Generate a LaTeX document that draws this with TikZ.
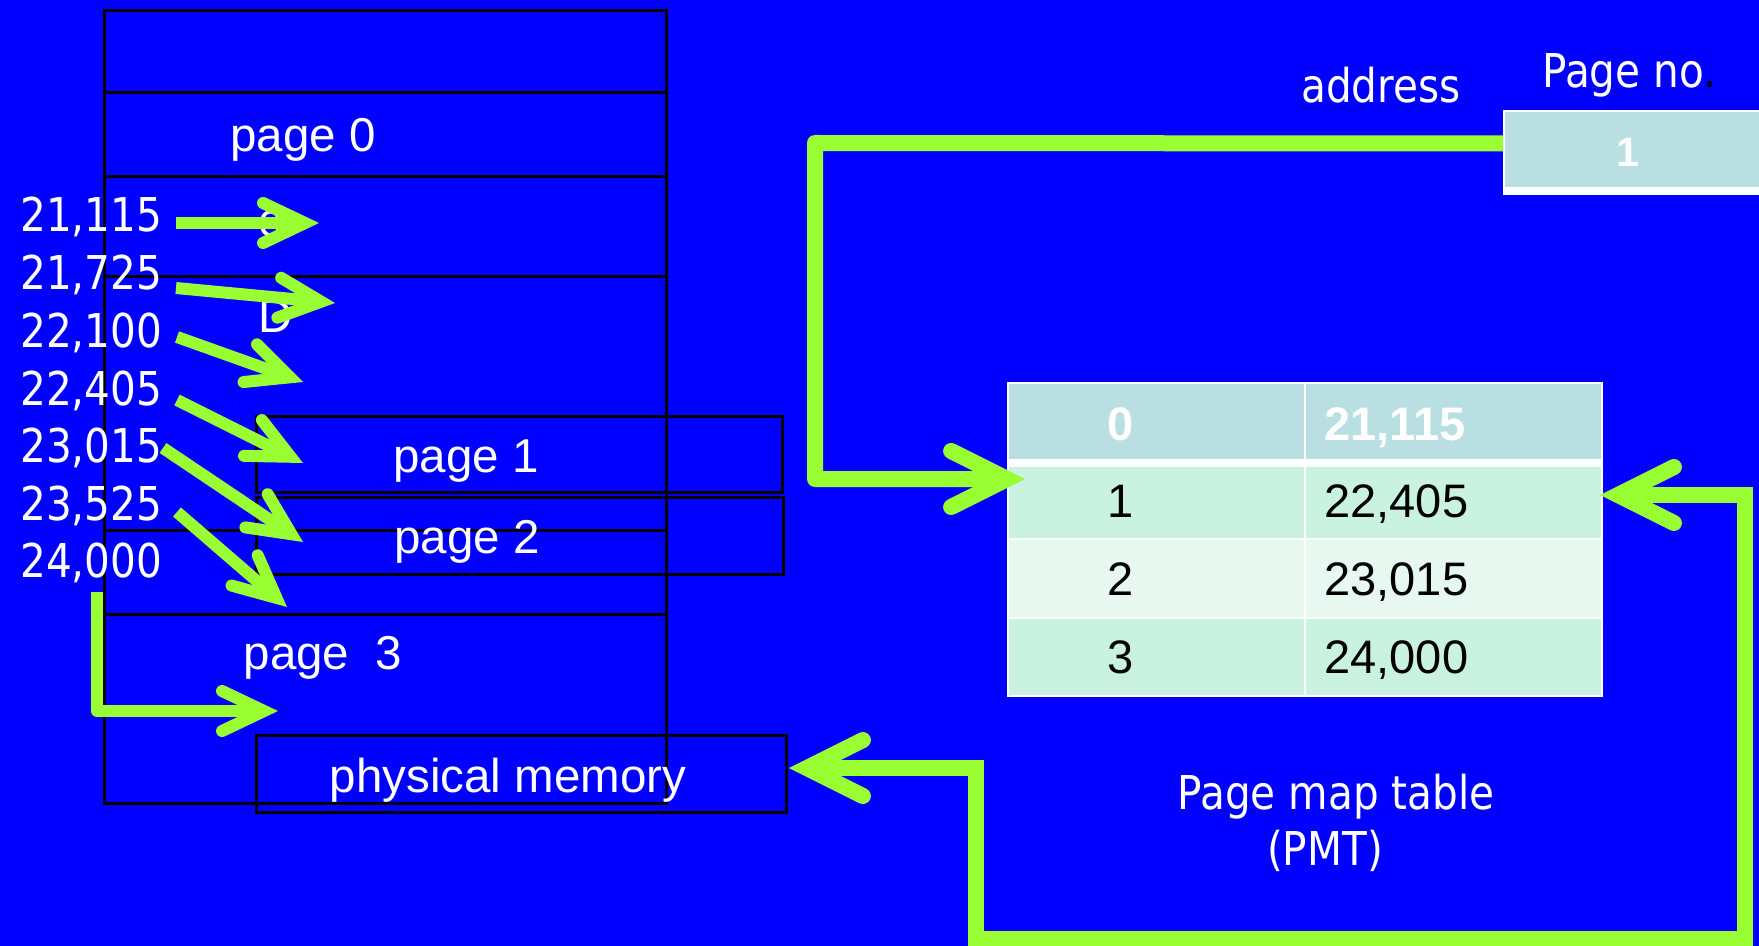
\documentclass[tikz,border=0pt]{standalone}
\usepackage{fontspec}
\setmainfont{Liberation Sans}
\newfontfamily\tah[FakeStretch=0.87]{DejaVu Sans}
\usetikzlibrary{arrows.meta}
\definecolor{bg}{RGB}{0,0,255}
\definecolor{grn}{RGB}{153,255,51}
\definecolor{hdr}{RGB}{185,223,227}
\definecolor{rowa}{RGB}{201,242,224}
\definecolor{rowb}{RGB}{230,248,239}
\tikzset{
  membox/.style={draw=black, line width=1.5pt, inner sep=0pt, anchor=north west},
  memline/.style={draw=black, line width=1.5pt},
  ptext/.style={text=white, font=\fontsize{23.75}{28}\selectfont, inner sep=0pt, anchor=base},
  ttext/.style={text=white, font=\tah\fontsize{23.3}{28}\selectfont, inner sep=0pt},
  cell/.style={draw=white, line width=1pt, inner sep=0pt, anchor=north west, minimum width=148.5pt},
  celltext/.style={text=black, font=\fontsize{23.5}{28}\selectfont, inner sep=0pt},
  bigarrow/.style={draw=grn, line width=8pt,
    -{Straight Barb[length=28pt,width=28pt,line cap=round,line join=miter]}},
  bothbig/.style={draw=grn, line width=8pt, line join=miter,
    {Straight Barb[length=28pt,width=28pt,line cap=round,line join=miter]}-{Straight Barb[length=28pt,width=28pt,line cap=round,line join=miter]}},
  smallarrow/.style={draw=grn, line width=6pt, line join=round,
    -{Straight Barb[length=21pt,width=20pt,line cap=round,line join=miter]}},
}
\begin{document}
\begin{tikzpicture}[x=0.5pt,y=-0.5pt]
\fill[bg] (0,0) rectangle (1759,946);
\useasboundingbox (0,0) rectangle (1759,946);

% physical memory column
\node[membox, minimum width=281pt, minimum height=396.5pt] (mem) at (103,9) {};
\draw[memline] (mem.west |- 0,93) -- (mem.east |- 0,93);
\draw[memline] (mem.west |- 0,177) -- (mem.east |- 0,177);
\draw[memline] (mem.west |- 0,277) -- (mem.east |- 0,277);
\draw[memline] (mem.west |- 0,530) -- (mem.east |- 0,530);
\draw[memline] (mem.west |- 0,614) -- (mem.east |- 0,614);
\node[membox, minimum width=263pt, minimum height=38pt] (p1box) at (255,415) {};
\node[membox, minimum width=263.5pt, minimum height=38.5pt] (p2box) at (255,496) {};
\node[membox, minimum width=265pt, minimum height=38.5pt] (pm) at (255,734) {};

\node[ptext] (pg0) at (303,152) {page 0};
\node[ptext, anchor=base west] (cc) at (258,237) {c};
\node[ptext, anchor=base west] (dd) at (258,333) {D};
\node[ptext] (pg1) at (466,472) {page 1};
\node[ptext] (pg2) at (467,553) {page 2};
\node[ptext] (pg3) at (323,669) {page~\ 3};
\node[ptext] (pmt) at (508,792) {physical memory};

% address labels
\node[ttext, anchor=base west] (a1) at (20,232) {21,115};
\node[ttext, anchor=base west] (a2) at (20,290) {21,725};
\node[ttext, anchor=base west] (a3) at (20,347) {22,100};
\node[ttext, anchor=base west] (a4) at (20,405) {22,405};
\node[ttext, anchor=base west] (a5) at (20,462) {23,015};
\node[ttext, anchor=base west] (a6) at (20,520) {23,525};
\node[ttext, anchor=base west] (a7) at (20,577) {24,000};

% top labels
\node[ttext, anchor=base] (addr) at (1381,103) {address};
\node[ttext, anchor=base west] (pno) at (1542,88) {Page no\textcolor{black}{.}};
\node[cell, fill=hdr, minimum width=130pt, minimum height=39.5pt] (pn) at (1503,110) {};
\draw[white, line width=4pt] (pn.south west) -- (pn.south east);
\node[text=white, font=\bfseries\fontsize{20.5}{24}\selectfont, inner sep=0pt, anchor=base] (pnv) at (1628,167) {1};

% page map table
\node[cell, fill=hdr, minimum height=39.5pt] (h1) at (1007,382) {};
\node[cell, fill=hdr, minimum height=39.5pt] (h2) at (1304,382) {};
\node[cell, fill=rowa, minimum height=38.5pt] (r11) at (1007,461) {};
\node[cell, fill=rowa, minimum height=38.5pt] (r12) at (1304,461) {};
\node[cell, fill=rowb, minimum height=39.5pt] (r21) at (1007,538) {};
\node[cell, fill=rowb, minimum height=39.5pt] (r22) at (1304,538) {};
\node[cell, fill=rowa, minimum height=39pt] (r31) at (1007,617) {};
\node[cell, fill=rowa, minimum height=39pt] (r32) at (1304,617) {};
\draw[white, line width=4pt] (h1.south west) -- (h2.south east);

\node[celltext, text=white, font=\bfseries\fontsize{23.5}{28}\selectfont, anchor=base] (t0a) at (1121,440) {0};
\node[celltext, text=white, font=\bfseries\fontsize{23.5}{28}\selectfont, anchor=base west] (t0b) at (1324,440) {21,115};
\node[celltext, anchor=base] (t1a) at (1121,517) {1};
\node[celltext, anchor=base west] (t1b) at (1324,517) {22,405};
\node[celltext, anchor=base] (t2a) at (1121,595) {2};
\node[celltext, anchor=base west] (t2b) at (1324,595) {23,015};
\node[celltext, anchor=base] (t3a) at (1121,673) {3};
\node[celltext, anchor=base west] (t3b) at (1324,673) {24,000};

\node[ttext, anchor=base] (pmtl1) at (1336,809) {Page map table};
\node[ttext, anchor=base] (pmtl2) at (1325,865) {(PMT)};

% small arrows into memory
\coordinate (s1) at (176,223); \coordinate (e1) at (319,223);
\coordinate (s2) at (176,288); \coordinate (e2) at (335,303);
\coordinate (s3) at (177,337); \coordinate (e3) at (303,382);
\coordinate (s4) at (177,400); \coordinate (e4) at (303,463);
\coordinate (s5) at (163,448); \coordinate (e5) at (303,542);
\coordinate (s6) at (177,512); \coordinate (e6) at (287,607);
\draw[smallarrow] (s1) -- (e1);
\draw[smallarrow] (s2) -- (e2);
\draw[smallarrow] (s3) -- (e3);
\draw[smallarrow] (s4) -- (e4);
\draw[smallarrow] (s5) -- (e5);
\draw[smallarrow] (s6) -- (e6);
\coordinate (s7) at (97,592); \coordinate (e7) at (278,711);
\draw[smallarrow] (s7) |- (e7);

% page number to table
\coordinate (k1) at (815,143);
\coordinate (k2) at (815,479);
\coordinate (e8) at (1025,479);
\draw[bigarrow, line join=round] ([yshift=3.5pt]pn.west) -- (k1) -- (k2) -- (e8);

% table back to physical memory
\coordinate (k3) at (1745,495);
\coordinate (k4) at (1745,939);
\coordinate (k5) at (976,939);
\coordinate (k6) at (976,768);
\coordinate (e9) at (1600,495);
\coordinate (e10) at (789,768);
\draw[bothbig] (e9) -- (k3) -- (k4) -- (k5) -- (k6) -- (e10);
\end{tikzpicture}
\end{document}
